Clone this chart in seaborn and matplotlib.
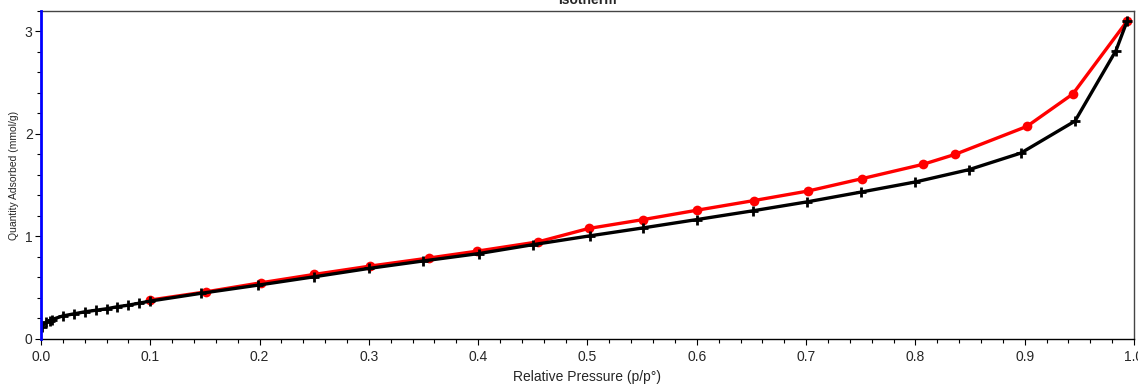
import matplotlib
matplotlib.use("Agg")
import matplotlib.pyplot as plt
from matplotlib.ticker import MultipleLocator
import seaborn as sns
import pandas as pd

# Adsorption branch (black, plus markers)
ads_p = [0.0006, 0.005, 0.008, 0.010, 0.020, 0.030, 0.040, 0.050, 0.060, 0.070,
         0.080, 0.090, 0.100, 0.146, 0.199, 0.250, 0.2997, 0.3495, 0.401, 0.450,
         0.502, 0.551, 0.600, 0.651, 0.7005, 0.7506, 0.800, 0.849, 0.8965, 0.946,
         0.9835, 0.9936]
ads_q = [0.12, 0.165, 0.18, 0.19, 0.225, 0.245, 0.265, 0.28, 0.295, 0.315,
         0.33, 0.35, 0.37, 0.445, 0.526, 0.607, 0.688, 0.761, 0.834, 0.92,
         1.006, 1.084, 1.165, 1.25, 1.337, 1.434, 1.532, 1.652, 1.814, 2.126,
         2.814, 3.10]

# Desorption branch (red, circle markers)
des_p = [0.9936, 0.944, 0.902, 0.836, 0.807, 0.7515, 0.702, 0.652, 0.600, 0.551,
         0.501, 0.455, 0.399, 0.355, 0.301, 0.250, 0.201, 0.151, 0.100]
des_q = [3.10, 2.39, 2.074, 1.80, 1.704, 1.565, 1.444, 1.35, 1.256, 1.165,
         1.078, 0.948, 0.857, 0.79, 0.711, 0.63, 0.548, 0.46, 0.38]

x_label = "Relative Pressure (p/p°)"
y_label = "Quantity Adsorbed (mmol/g)"
title = "Isotherm"

sns.set_style("white")
plt.rcParams['font.family'] = ['Liberation Sans', 'DejaVu Sans']

fig = plt.figure(figsize=(11.38, 3.85), dpi=100)
ax = fig.add_axes([0.036, 0.1195, 0.9605, 0.852])

ads = pd.DataFrame({"p": ads_p, "q": ads_q})
des = pd.DataFrame({"p": des_p, "q": des_q})

sns.lineplot(data=des, x="p", y="q", sort=False, ax=ax, color="#ff0000",
             linewidth=2.4, marker="o", markersize=7, markeredgewidth=0,
             markeredgecolor="#ff0000", markerfacecolor="#ff0000", zorder=2)
sns.lineplot(data=ads, x="p", y="q", sort=False, ax=ax, color="black",
             linewidth=2.4, marker="+", markersize=7, markeredgewidth=2,
             markeredgecolor="black", zorder=3)

ax.set_xlim(0, 1.0)
ax.set_ylim(0, 3.2)
ax.xaxis.set_major_locator(MultipleLocator(0.1))
ax.xaxis.set_minor_locator(MultipleLocator(0.02))
ax.yaxis.set_major_locator(MultipleLocator(1))
ax.yaxis.set_minor_locator(MultipleLocator(0.2))
ax.xaxis.set_major_formatter(plt.FuncFormatter(lambda v, p: f"{v:.1f}"))
ax.yaxis.set_major_formatter(plt.FuncFormatter(lambda v, p: f"{v:.0f}"))

ax.tick_params(axis="both", which="major", direction="out", length=4,
               width=0.8, color="black", labelsize=10, pad=2,
               bottom=True, left=True)
ax.tick_params(axis="x", which="major", pad=4)
ax.tick_params(axis="both", which="minor", direction="out", length=3,
               width=0.8, color="black", bottom=True, left=True)

for s in ["top", "right"]:
    ax.spines[s].set_color("#444444")
    ax.spines[s].set_linewidth(1.0)
ax.spines["bottom"].set_color("black")
ax.spines["bottom"].set_linewidth(1.0)
ax.spines["left"].set_color("#0000ff")
ax.spines["left"].set_linewidth(2.0)
ax.spines["left"].set_zorder(5)

ax.set_xlabel(x_label, fontsize=10, labelpad=4)
ax.set_ylabel(y_label, fontsize=7.5, labelpad=4)

fig.text(0.516, 1.0, title, ha="center", va="center", fontsize=10,
         fontweight="bold")

fig.savefig("out.png", dpi=100)
